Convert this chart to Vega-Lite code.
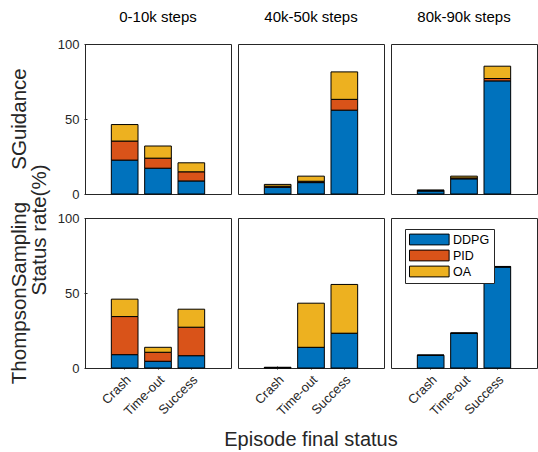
{
  "$schema": "https://vega.github.io/schema/vega-lite/v6.json",
  "padding": {"left": 9, "top": 10, "right": 1, "bottom": 5},
  "title": {"text": "Status rate(%)", "orient": "left", "anchor": "middle", "offset": -41, "fontSize": 20.5, "font": "Liberation Sans", "fontWeight": "normal", "color": "#262626"},
  "data": {"values": [
    {"method": "SGuidance", "stage": "0-10k steps", "status": "Crash", "controller": "DDPG", "value": 22.6},
    {"method": "SGuidance", "stage": "0-10k steps", "status": "Crash", "controller": "PID", "value": 12.7},
    {"method": "SGuidance", "stage": "0-10k steps", "status": "Crash", "controller": "OA", "value": 11.0},
    {"method": "SGuidance", "stage": "0-10k steps", "status": "Time-out", "controller": "DDPG", "value": 17.2},
    {"method": "SGuidance", "stage": "0-10k steps", "status": "Time-out", "controller": "PID", "value": 6.7},
    {"method": "SGuidance", "stage": "0-10k steps", "status": "Time-out", "controller": "OA", "value": 8.1},
    {"method": "SGuidance", "stage": "0-10k steps", "status": "Success", "controller": "DDPG", "value": 8.7},
    {"method": "SGuidance", "stage": "0-10k steps", "status": "Success", "controller": "PID", "value": 6.1},
    {"method": "SGuidance", "stage": "0-10k steps", "status": "Success", "controller": "OA", "value": 6.0},
    {"method": "SGuidance", "stage": "40k-50k steps", "status": "Crash", "controller": "DDPG", "value": 4.5},
    {"method": "SGuidance", "stage": "40k-50k steps", "status": "Crash", "controller": "PID", "value": 0.7},
    {"method": "SGuidance", "stage": "40k-50k steps", "status": "Crash", "controller": "OA", "value": 1.2},
    {"method": "SGuidance", "stage": "40k-50k steps", "status": "Time-out", "controller": "DDPG", "value": 7.6},
    {"method": "SGuidance", "stage": "40k-50k steps", "status": "Time-out", "controller": "PID", "value": 0.9},
    {"method": "SGuidance", "stage": "40k-50k steps", "status": "Time-out", "controller": "OA", "value": 3.4},
    {"method": "SGuidance", "stage": "40k-50k steps", "status": "Success", "controller": "DDPG", "value": 55.9},
    {"method": "SGuidance", "stage": "40k-50k steps", "status": "Success", "controller": "PID", "value": 7.2},
    {"method": "SGuidance", "stage": "40k-50k steps", "status": "Success", "controller": "OA", "value": 18.3},
    {"method": "SGuidance", "stage": "80k-90k steps", "status": "Crash", "controller": "DDPG", "value": 2.0},
    {"method": "SGuidance", "stage": "80k-90k steps", "status": "Crash", "controller": "PID", "value": 0.3},
    {"method": "SGuidance", "stage": "80k-90k steps", "status": "Crash", "controller": "OA", "value": 0.4},
    {"method": "SGuidance", "stage": "80k-90k steps", "status": "Time-out", "controller": "DDPG", "value": 10.1},
    {"method": "SGuidance", "stage": "80k-90k steps", "status": "Time-out", "controller": "PID", "value": 0.6},
    {"method": "SGuidance", "stage": "80k-90k steps", "status": "Time-out", "controller": "OA", "value": 1.2},
    {"method": "SGuidance", "stage": "80k-90k steps", "status": "Success", "controller": "DDPG", "value": 75.4},
    {"method": "SGuidance", "stage": "80k-90k steps", "status": "Success", "controller": "PID", "value": 1.6},
    {"method": "SGuidance", "stage": "80k-90k steps", "status": "Success", "controller": "OA", "value": 8.2},
    {"method": "ThompsonSampling", "stage": "0-10k steps", "status": "Crash", "controller": "DDPG", "value": 8.9},
    {"method": "ThompsonSampling", "stage": "0-10k steps", "status": "Crash", "controller": "PID", "value": 25.4},
    {"method": "ThompsonSampling", "stage": "0-10k steps", "status": "Crash", "controller": "OA", "value": 11.6},
    {"method": "ThompsonSampling", "stage": "0-10k steps", "status": "Time-out", "controller": "DDPG", "value": 4.5},
    {"method": "ThompsonSampling", "stage": "0-10k steps", "status": "Time-out", "controller": "PID", "value": 6.0},
    {"method": "ThompsonSampling", "stage": "0-10k steps", "status": "Time-out", "controller": "OA", "value": 3.3},
    {"method": "ThompsonSampling", "stage": "0-10k steps", "status": "Success", "controller": "DDPG", "value": 8.2},
    {"method": "ThompsonSampling", "stage": "0-10k steps", "status": "Success", "controller": "PID", "value": 19.0},
    {"method": "ThompsonSampling", "stage": "0-10k steps", "status": "Success", "controller": "OA", "value": 12.0},
    {"method": "ThompsonSampling", "stage": "40k-50k steps", "status": "Crash", "controller": "DDPG", "value": 0.3},
    {"method": "ThompsonSampling", "stage": "40k-50k steps", "status": "Crash", "controller": "PID", "value": 0.0},
    {"method": "ThompsonSampling", "stage": "40k-50k steps", "status": "Crash", "controller": "OA", "value": 0.2},
    {"method": "ThompsonSampling", "stage": "40k-50k steps", "status": "Time-out", "controller": "DDPG", "value": 13.8},
    {"method": "ThompsonSampling", "stage": "40k-50k steps", "status": "Time-out", "controller": "PID", "value": 0.0},
    {"method": "ThompsonSampling", "stage": "40k-50k steps", "status": "Time-out", "controller": "OA", "value": 29.4},
    {"method": "ThompsonSampling", "stage": "40k-50k steps", "status": "Success", "controller": "DDPG", "value": 23.2},
    {"method": "ThompsonSampling", "stage": "40k-50k steps", "status": "Success", "controller": "PID", "value": 0.0},
    {"method": "ThompsonSampling", "stage": "40k-50k steps", "status": "Success", "controller": "OA", "value": 32.5},
    {"method": "ThompsonSampling", "stage": "80k-90k steps", "status": "Crash", "controller": "DDPG", "value": 8.5},
    {"method": "ThompsonSampling", "stage": "80k-90k steps", "status": "Crash", "controller": "PID", "value": 0.0},
    {"method": "ThompsonSampling", "stage": "80k-90k steps", "status": "Crash", "controller": "OA", "value": 0.0},
    {"method": "ThompsonSampling", "stage": "80k-90k steps", "status": "Time-out", "controller": "DDPG", "value": 23.2},
    {"method": "ThompsonSampling", "stage": "80k-90k steps", "status": "Time-out", "controller": "PID", "value": 0.0},
    {"method": "ThompsonSampling", "stage": "80k-90k steps", "status": "Time-out", "controller": "OA", "value": 0.0},
    {"method": "ThompsonSampling", "stage": "80k-90k steps", "status": "Success", "controller": "DDPG", "value": 67.4},
    {"method": "ThompsonSampling", "stage": "80k-90k steps", "status": "Success", "controller": "PID", "value": 0.0},
    {"method": "ThompsonSampling", "stage": "80k-90k steps", "status": "Success", "controller": "OA", "value": 0.3}
  ]},
  "transform": [
    {"calculate": "indexof(['DDPG', 'PID', 'OA'], datum.controller)", "as": "stack_rank"}
  ],
  "facet": {
    "row": {"field": "method", "type": "nominal", "sort": ["SGuidance", "ThompsonSampling"],
      "header": {"title": null, "labelOrient": "left", "labelAngle": -90, "labelFontSize": 20.5, "labelFont": "Liberation Sans", "labelColor": "#262626", "labelPadding": 17}},
    "column": {"field": "stage", "type": "nominal", "sort": ["0-10k steps", "40k-50k steps", "80k-90k steps"],
      "title": "Episode final status",
      "header": {"titleOrient": "bottom", "titleFontSize": 20, "titleFont": "Liberation Sans", "titleFontWeight": "normal", "titleColor": "#262626", "titlePadding": 1,
        "labelOrient": "top", "labelFontSize": 15, "labelFont": "Liberation Sans", "labelColor": "#000000", "labelPadding": 18}}
  },
  "spacing": {"row": 22, "column": 5},
  "spec": {
    "width": 146,
    "height": 150,
    "mark": {"type": "bar", "stroke": "#000000", "strokeWidth": 1},
    "encoding": {
      "x": {"field": "status", "type": "nominal", "sort": ["Crash", "Time-out", "Success"],
        "scale": {"paddingInner": 0.2, "paddingOuter": 0.79},
        "axis": {"title": null, "labelAngle": -45, "labelFontSize": 13, "labelFont": "Liberation Sans", "labelColor": "#262626", "tickSize": -3, "tickColor": "#262626", "domain": false, "labelPadding": 7}},
      "y": {"field": "value", "type": "quantitative", "stack": "zero",
        "scale": {"domain": [0, 100]},
        "axis": {"title": null, "values": [0, 50, 100], "grid": false, "labelFontSize": 13, "labelFont": "Liberation Sans", "labelColor": "#262626", "tickSize": -3, "tickColor": "#262626", "domain": false, "labelPadding": 8}},
      "color": {"field": "controller", "type": "nominal", "sort": ["DDPG", "PID", "OA"],
        "scale": {"domain": ["DDPG", "PID", "OA"], "range": ["#0072BD", "#D95319", "#EDB120"]},
        "legend": {"title": null, "orient": "none", "legendX": 320, "legendY": 185, "symbolType": "M-1,-0.9H5.6V0.9H-1Z", "symbolSize": 144, "symbolStrokeColor": "#000000", "symbolStrokeWidth": 1, "symbolOpacity": 1, "labelFontSize": 12.5, "labelFont": "Liberation Sans", "labelColor": "#000000", "strokeColor": "#262626", "fillColor": "#ffffff", "padding": 4, "rowPadding": 1, "labelOffset": 31}},
      "order": {"field": "stack_rank", "type": "quantitative", "sort": "ascending"}
    }
  },
  "config": {
    "view": {"stroke": "#262626", "strokeWidth": 1}
  }
}
